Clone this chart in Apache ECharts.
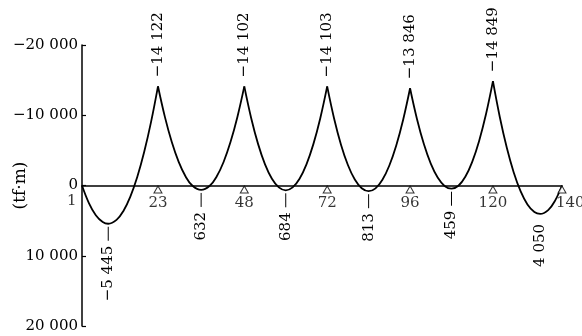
<!DOCTYPE html>
<html>
<head>
<meta charset="utf-8">
<script src="https://cdn.jsdelivr.net/npm/echarts@6/dist/echarts.min.js"></script>
<style>
  html, body { margin: 0; padding: 0; background: #fff; }
  #chart { width: 582px; height: 336px; }
</style>
</head>
<body>
<div id="chart"></div>
<script>
// bending moment along the beam (node, tf·m)
const span1 = [[1, 0], [3, 2500], [5, 4230], [7, 5200], [8.6, 5445], [11, 4900], [13, 3620], [15, 1580], [17, -1210], [19, -4760], [21, -9060], [23, -14122]];
const span2 = [[23, -14122], [25, -9770], [27, -6190], [29, -3360], [31, -1280], [33, 40], [35.5, 632], [38, 40], [40, -1280], [42, -3350], [44, -6180], [46, -9760], [48, -14102]];
const span3 = [[48, -14102], [50, -9580], [52, -5890], [54, -3010], [56, -960], [58, 270], [60, 684], [62, 270], [64, -960], [66, -3010], [68, -5890], [70, -9580], [72, -14103]];
const span4 = [[72, -14103], [74, -9545], [76, -5816], [78, -2916], [80, -844], [82, 398], [84, 813], [86, 406], [88, -816], [90, -2852], [92, -5702], [94, -9367], [96, -13846]];
const span5 = [[96, -13846], [98, -9475], [100, -5899], [102, -3117], [104, -1130], [106, 62], [108, 459], [110, 34], [112, -1242], [114, -3368], [116, -6345], [118, -10171], [120, -14849]];
const span6 = [[120, -14849], [122, -9720], [124, -5400], [126, -1900], [128, 800], [130, 2690], [132, 3770], [133.7, 4050], [136, 3500], [138, 2150], [140, 0]];

const supportNodes = [23, 48, 72, 96, 120, 140];

const peakNodes = [23, 48, 72, 96, 120];
const peakValues = [-14122, -14102, -14103, -13846, -14849];
const peakLabels = ['−14 122', '−14 102', '−14 103', '−13 846', '−14 849'];

const troughNodes = [8.6, 35.5, 60, 84, 108, 133.7];
const troughValues = [5445, 632, 684, 813, 459, 4050];
const troughLabels = ['−5 445', '632', '684', '813', '459', '4 050'];

const yTicks = [-20000, -10000, 0, 10000, 20000];

const FONT = 'DejaVu Serif';

function fmt(v) {
  const s = Math.abs(v).toString().replace(/\B(?=(\d{3})+(?!\d))/g, ' ');
  return (v < 0 ? '−' : '') + s;
}

const chart = echarts.init(document.getElementById('chart'));

const spanSeries = [span1, span2, span3, span4, span5, span6].map(d => ({
  type: 'line',
  data: d,
  smooth: 0.4,
  symbol: 'none',
  lineStyle: { color: '#000', width: 1.8 },
  z: 3
}));

const supportData = supportNodes.map(n => {
  const item = { value: [n, 0] };
  if (n === 140) {
    item.label = { align: 'left', offset: [-6, 0] };
  }
  return item;
});
// node 1 only gets a number, no support mark
supportData.unshift({
  value: [1, 0],
  symbol: 'circle',
  symbolSize: 1,
  symbolOffset: [0, 0],
  itemStyle: { color: 'rgba(0,0,0,0)', borderWidth: 0 },
  label: { position: 'left', distance: 5, offset: [0, 16] }
});

const option = {
  animation: false,
  grid: { left: 82, right: 20, top: 45, bottom: 10, outerBoundsMode: 'none', containLabel: false },
  xAxis: {
    type: 'value',
    min: 1,
    max: 140,
    axisLine: { onZero: true, lineStyle: { color: '#000', width: 1.5 } },
    axisTick: { show: false },
    axisLabel: { show: false },
    splitLine: { show: false }
  },
  yAxis: {
    type: 'value',
    inverse: true,
    min: yTicks[0],
    max: yTicks[yTicks.length - 1],
    interval: 10000,
    name: '(tf·m)',
    nameLocation: 'middle',
    nameRotate: 90,
    nameGap: 53,
    nameMoveOverlap: false,
    nameTextStyle: { fontFamily: FONT, fontSize: 17, color: '#000' },
    axisLine: { show: true, lineStyle: { color: '#000', width: 1.5 } },
    axisTick: { show: true, inside: true, length: 4, lineStyle: { color: '#000', width: 1.2 } },
    axisLabel: {
      margin: 4,
      color: '#000',
      fontFamily: FONT,
      fontSize: 15,
      formatter: fmt
    },
    splitLine: { show: false }
  },
  series: spanSeries.concat([
    {
      type: 'scatter',
      data: supportData,
      symbol: 'triangle',
      symbolSize: [8, 7],
      symbolOffset: [0, 4],
      itemStyle: { color: '#fff', borderColor: '#000', borderWidth: 1 },
      label: {
        show: true,
        position: 'bottom',
        distance: 2,
        color: '#000',
        fontFamily: FONT,
        fontSize: 15,
        formatter: p => String(p.value[0])
      },
      z: 4
    },
    {
      type: 'custom',
      data: peakNodes.map((n, i) => [n, peakValues[i]]),
      renderItem: (params, api) => {
        const p = api.coord([api.value(0), api.value(1)]);
        return {
          type: 'text',
          x: p[0],
          y: p[1] - 9,
          rotation: Math.PI / 2,
          style: {
            text: peakLabels[params.dataIndex],
            fill: '#000',
            font: '15px "' + FONT + '"',
            textAlign: 'left',
            textVerticalAlign: 'middle',
            align: 'left',
            verticalAlign: 'middle'
          }
        };
      },
      z: 5
    },
    {
      type: 'custom',
      data: troughNodes.map((n, i) => [n, troughValues[i]]),
      renderItem: (params, api) => {
        const p = api.coord([api.value(0), api.value(1)]);
        // the end span's value sits right under the curve, without a leader
        const noLeader = params.dataIndex === troughNodes.length - 1;
        const children = [];
        if (!noLeader) {
          children.push({
            type: 'line',
            shape: { x1: p[0], y1: p[1] + 3, x2: p[0], y2: p[1] + 17 },
            style: { stroke: '#000', lineWidth: 1 }
          });
        }
        children.push({
          type: 'text',
          x: p[0],
          y: p[1] + (noLeader ? 10 : 22),
          rotation: Math.PI / 2,
          style: {
            text: troughLabels[params.dataIndex],
            fill: '#000',
            font: '15px "' + FONT + '"',
            textAlign: 'right',
            textVerticalAlign: 'middle',
            align: 'right',
            verticalAlign: 'middle'
          }
        });
        return { type: 'group', children: children };
      },
      z: 5
    }
  ])
};

chart.setOption(option);
</script>
</body>
</html>
